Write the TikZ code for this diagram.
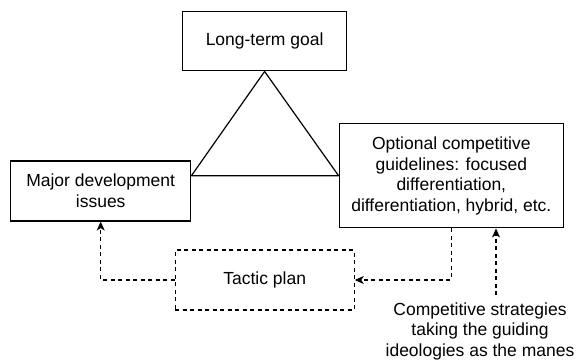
\documentclass[tikz,border=0pt]{standalone}
\usepackage{fontspec}
\setmainfont{Liberation Sans}
\usetikzlibrary{arrows.meta}
\begin{document}
\begin{tikzpicture}[x=1pt,y=-1pt,
  every node/.style={font=\fontsize{17.5}{20.5}\selectfont, align=center, inner sep=0pt},
  box/.style={draw, line width=1.3pt, minimum width=#1, anchor=center},
  dbox/.style={draw, line width=1.1pt, dash pattern=on 4pt off 3.5pt, minimum width=179pt, minimum height=60pt},
  link/.style={line width=1.1pt, dash pattern=on 4pt off 3.5pt, -{Stealth[length=9pt,width=8pt,inset=2.5pt]}},
  tri/.style={line width=1.2pt}]
\useasboundingbox (0,0) rectangle (585,360);
% main boxes
\node[box=164pt, minimum height=59pt] (goal) at (264.6,41.3) {Long-term goal};
\node[box=180pt, minimum height=60pt] (major) at (100.7,190.9) {Major development\\issues};
\node[box=224pt, minimum height=104pt] (opt) at (451.3,175.8) {Optional competitive\\guidelines: focused\\differentiation,\\differentiation, hybrid, etc.};
\node[dbox] (tactic) at (264.7,280) {Tactic plan};
\node (comp) at (480,331) {Competitive strategies\\taking the guiding\\ideologies as the manes};
\coordinate (cstart) at (496,295);
% triangle linking the three main boxes
\draw[tri, line join=miter] (goal.south) -- (major.east |- opt.west) -- (opt.west) -- cycle;
% dashed connectors
\draw[link] (tactic.west) -| (major.south);
\draw[link] (opt.south) |- (tactic.east);
\draw[link] (cstart) -- (cstart |- opt.south);
\end{tikzpicture}
\end{document}
